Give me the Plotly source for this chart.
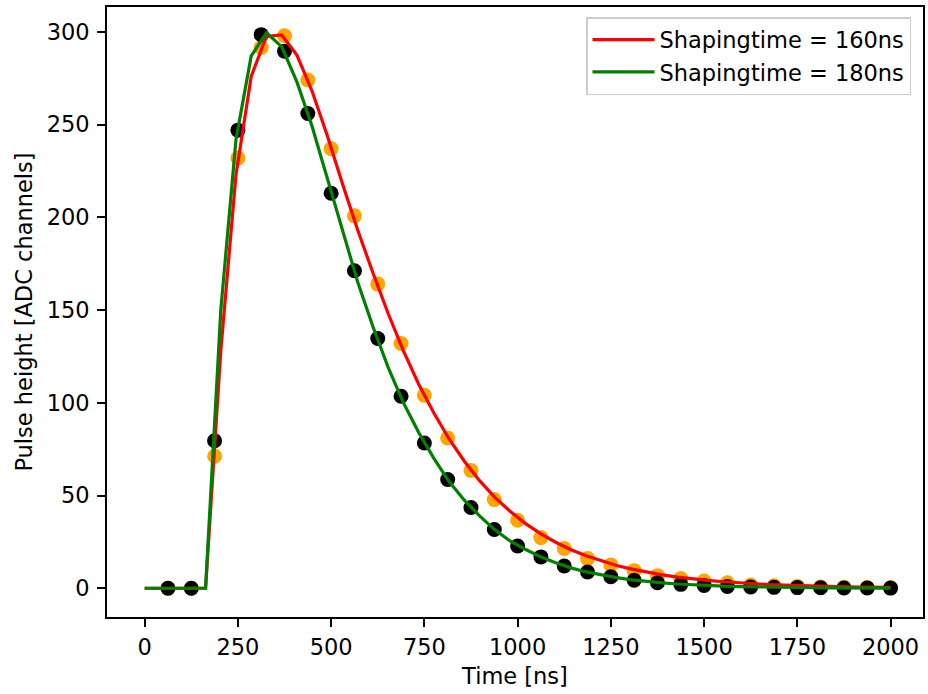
import plotly.graph_objects as go

# Measured samples (every 62.5 ns)
sample_times = [62.5, 125.0, 187.5, 250.0, 312.5, 375.0, 437.5, 500.0, 562.5, 625.0,
                687.5, 750.0, 812.5, 875.0, 937.5, 1000.0, 1062.5, 1125.0, 1187.5, 1250.0,
                1312.5, 1375.0, 1437.5, 1500.0, 1562.5, 1625.0, 1687.5, 1750.0, 1812.5, 1875.0,
                1937.5, 2000.0]
pulse_160 = [0, 0, 71.2, 232, 291.6, 297.9, 274, 237, 200.8, 164,
             132, 104.1, 81, 63.5, 47.8, 36.7, 27.3, 21.4, 16.0, 12.6,
             9.5, 6.8, 5.2, 3.9, 2.9, 1.8, 1.3, 1.0, 0.7, 0.5,
             0.4, 0.3]
pulse_180 = [0, 0, 79.5, 247, 298.5, 289.6, 256, 213, 171.2, 134.7,
             103.5, 78.3, 58.6, 43.5, 31.7, 22.8, 16.9, 12.0, 8.8, 6.2,
             4.3, 3.0, 2.1, 1.5, 1.0, 0.7, 0.5, 0.35, 0.25, 0.17,
             0.12, 0.08]

# Fitted shaping curves (50 evaluation times)
fit_times = [0.0, 40.8, 81.6, 122.4, 163.3, 204.1, 244.9, 285.7, 326.5, 367.3,
             408.2, 449.0, 489.8, 530.6, 571.4, 612.2, 653.1, 693.9, 734.7, 775.5,
             816.3, 857.1, 898.0, 938.8, 979.6, 1020.4, 1061.2, 1102.0, 1142.9, 1183.7,
             1224.5, 1265.3, 1306.1, 1346.9, 1387.8, 1428.6, 1469.4, 1510.2, 1551.0, 1591.8,
             1632.7, 1673.5, 1714.3, 1755.1, 1795.9, 1836.7, 1877.6, 1918.4, 1959.2, 2000.0]
fit_160 = [0, 0, 0, 0, 0, 128, 223, 276, 297.5, 298.3,
           287.5, 268, 244, 218, 193, 170, 148, 128, 110, 94.5,
           80.5, 68.5, 58, 49, 41.5, 35, 29.5, 24.8, 20.8, 17.5,
           14.7, 12.3, 10.3, 8.6, 7.2, 6.0, 5.0, 4.2, 3.5, 2.9,
           2.4, 2.0, 1.7, 1.4, 1.15, 0.95, 0.8, 0.65, 0.55, 0.45]
fit_180 = [0, 0, 0, 0, 0, 150, 242, 287, 299.5, 292,
           273, 249, 221, 192, 165, 141, 119, 100, 84, 70,
           57.5, 47.5, 39, 31.5, 25.5, 21, 17, 13.7, 11, 8.8,
           7.1, 5.7, 4.5, 3.6, 2.9, 2.3, 1.8, 1.4, 1.1, 0.9,
           0.7, 0.55, 0.43, 0.34, 0.27, 0.21, 0.16, 0.13, 0.1, 0.08]

x_ticks = [0, 250, 500, 750, 1000, 1250, 1500, 1750, 2000]
y_ticks = [0, 50, 100, 150, 200, 250, 300]

FONT = "DejaVu Sans"
FS = 22.5
TXT = "#000000"

fig = go.Figure()
fig.add_trace(go.Scatter(x=sample_times, y=pulse_160, mode="markers",
                         marker=dict(color="orange", size=15, line=dict(width=0)),
                         showlegend=False, hoverinfo="x+y"))
fig.add_trace(go.Scatter(x=sample_times, y=pulse_180, mode="markers",
                         marker=dict(color="black", size=15, line=dict(width=0)),
                         showlegend=False, hoverinfo="x+y"))
fig.add_trace(go.Scatter(x=fit_times, y=fit_160, mode="lines",
                         line=dict(color="red", width=3.2),
                         name="Shapingtime = 160ns"))
fig.add_trace(go.Scatter(x=fit_times, y=fit_180, mode="lines",
                         line=dict(color="green", width=3.2),
                         name="Shapingtime = 180ns"))

axis_common = dict(showgrid=False, zeroline=False, showline=True, linecolor="black",
                   linewidth=1.8, mirror=True, ticks="outside", ticklen=8, tickwidth=1.8,
                   tickcolor="black", tickfont=dict(family=FONT, size=FS, color=TXT),
                   title_font=dict(family=FONT, size=FS, color=TXT))

fig.update_layout(
    width=928, height=694,
    margin=dict(l=107, r=5, t=7, b=77, autoexpand=False),
    paper_bgcolor="white", plot_bgcolor="white",
    font=dict(family=FONT, size=FS, color=TXT),
    xaxis=dict(range=[-101, 2087], tickvals=x_ticks, title=dict(text="Time [ns]", standoff=9),
               ticklabelstandoff=1, **axis_common),
    yaxis=dict(range=[-15.5, 313.4], tickvals=y_ticks,
               title=dict(text="Pulse height [ADC channels]", standoff=8),
               ticklabelstandoff=3, **axis_common),
    legend=dict(x=(586 - 107) / (923 - 107), y=(617 - 17) / (617 - 7), xanchor="left", yanchor="top",
                bgcolor="rgba(255,255,255,0.8)", bordercolor="#cccccc", borderwidth=1.5,
                font=dict(family=FONT, size=FS, color=TXT), itemwidth=62,
                tracegroupgap=0),
)

fig.write_html("out.html",
               config={"displayModeBar": False},
               post_script="document.body.style.margin='0';document.body.style.overflow='hidden';")
